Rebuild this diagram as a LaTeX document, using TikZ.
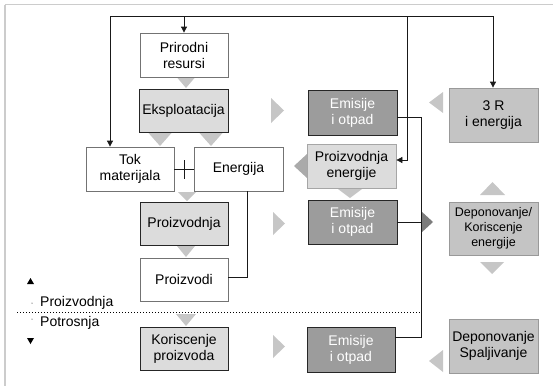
\documentclass[tikz,border=0pt]{standalone}
\usepackage{fontspec}
\setmainfont{Liberation Sans}
\usetikzlibrary{arrows.meta,calc}
\definecolor{paleFill}{HTML}{DCDCDC}
\definecolor{midFill}{HTML}{C4C4C4}
\definecolor{darkFill}{HTML}{9C9C9C}
\definecolor{triFill}{HTML}{C6C6C6}
\definecolor{triDark}{HTML}{AAAAAA}
\definecolor{busTri}{HTML}{7C7C7C}
\definecolor{frameGray}{HTML}{CCCCCC}
\begin{document}
\begin{tikzpicture}[x=1pt,y=-1pt,
  every node/.style={font=\fontsize{14}{16}\selectfont, align=center, inner sep=0pt},
  basebox/.style={draw, line width=0.8pt, minimum width=#1},
  basebox/.default=88pt,
  whitebox/.style={basebox, draw=black!55, fill=white, minimum height=44pt},
  palebox/.style={basebox, draw=black!85, fill=paleFill, minimum height=43pt},
  emibox/.style={basebox=89pt, draw=black!85, fill=darkFill, text=white, minimum height=45pt},
  rbox/.style={basebox=89pt, draw=black!40, fill=midFill, minimum height=54pt},
  conn/.style={line width=0.8pt, draw=black!90},
  arr/.style={conn, -{Triangle[length=6pt,width=6pt]}},
  tri/.style={fill=triFill}
]
\useasboundingbox (0,0) rectangle (553,386);
% frame
\draw[frameGray, line width=1.5pt] (5,4.5) -- (553,4.5);
\draw[frameGray, line width=1.2pt] (5,4.5) -- (5,386);

% production chain
\node[whitebox] (prir) at (184,55) {Prirodni\\resursi};
\node[palebox, basebox=89pt] (eksp) at (183.5,110.5) {Eksploatacija};
\node[whitebox] (tok) at (130,169) {Tok\\materijala};
\node[whitebox, basebox=89pt] (ener) at (238.5,169) {Energija};
\node[palebox] (proz) at (184,223.5) {Proizvodnja};
\node[whitebox, minimum height=43pt] (prvd) at (184,279.5) {Proizvodi};
\node[palebox] (kor) at (184,348.5) {Koriscenje\\proizvoda};

% emissions column
\node[emibox] (em1) at (352.5,112.5) {Emisije\\i otpad};
\node[basebox=89pt, draw=black!35, fill=paleFill, minimum height=44pt] (pen) at (351.5,166) {Proizvodnja\\energije};
\node[emibox, minimum height=44pt] (em2) at (352.5,222) {Emisije\\i otpad};
\node[emibox, basebox=88pt] (em3) at (351,349.5) {Emisije\\i otpad};

% treatment column
\node[rbox] (trr) at (493.5,115) {3 R\\i energija};
\node[rbox, minimum height=53pt, font=\fontsize{12.5}{15}\selectfont] (dep1) at (493.5,228.5) {Deponovanje/\\Koriscenje\\energije};
\node[rbox] (dep2) at (493.5,346) {Deponovanje\\Spaljivanje};

% flow triangles
\fill[tri] (177.5,78) -- (194.5,78) -- (186,88) -- cycle;
\fill[tri] (148.5,133) -- (171.5,133) -- (160,146) -- cycle;
\fill[tri] (199.5,133) -- (222.5,133) -- (211,146) -- cycle;
\fill[tri] (178,192) -- (196,192) -- (187,201) -- cycle;
\fill[tri] (177,246) -- (195,246) -- (186,257) -- cycle;
\fill[tri] (176,314) -- (196,314) -- (186,326) -- cycle;
\fill[tri] (271,98) -- (284,110.5) -- (271,123) -- cycle;
\fill[tri] (273,212) -- (285,223.5) -- (273,235) -- cycle;
\fill[tri] (273,335) -- (285,346.5) -- (273,358) -- cycle;
\fill[tri] (443,92) -- (429,102.5) -- (443,113) -- cycle;
\fill[triDark] (307,154) -- (294,166) -- (307,178) -- cycle;
\fill[tri] (338,189) -- (362,189) -- (350,198) -- cycle;
\fill[tri] (480,195) -- (505,195) -- (492.5,182) -- cycle;
\fill[tri] (480,262) -- (504,262) -- (492,274) -- cycle;
\fill[tri] (443,350) -- (429,361) -- (443,372) -- cycle;
\fill[busTri] (421,211) -- (433,222) -- (421,233) -- cycle;

% feedback loop along the top
\coordinate (loopL) at (110,16);
\coordinate (loopR) at (493,16);
\coordinate (loopE) at (407,16);
\draw[conn] (loopL) -- (loopR);
\draw[arr] (loopL) -- (loopL |- tok.north);
\draw[arr] (prir.north |- loopL) -- (prir.north);
\draw[arr] (loopR) -- (loopR |- trr.north);
\draw[arr] (loopE) |- ([yshift=6pt]pen.east);

% emission collector line
\coordinate (busT) at (421,117);
\coordinate (busB) at (421,337);
\draw[conn] ([yshift=-4.5pt]em1.east) -- (busT) -- (busB) -- ([yshift=12.5pt]em3.east);
\draw[conn] (em2.east) -- (busT |- em2.east);

% energy to products
\coordinate (ebend) at (247,277);
\draw[conn] (ebend |- ener.south) -- (ebend) -- (ebend -| prvd.east);

% link between material flow and energy
\draw[conn] (tok.east) -- (ener.west);
\coordinate (tick) at ($(tok.east)!0.5!(ener.west)$);
\draw[conn] ([yshift=9pt]tick) -- ([yshift=-10pt]tick);

% production / consumption boundary
\draw[line width=0.8pt, dash pattern=on 0.8pt off 2.2pt] (17,312) -- (busT |- 0,312);
\fill (32,303) circle (0.5);
\fill (32,319) circle (0.5);
\fill (27,284) -- (34,284) -- (30.5,278) -- cycle;
\fill (27,338) -- (34,338) -- (30.5,344) -- cycle;
\node[anchor=base west] (lprod) at (40,306) {Proizvodnja};
\node[anchor=base west] (lpotr) at (40,326) {Potrosnja};
\end{tikzpicture}
\end{document}
